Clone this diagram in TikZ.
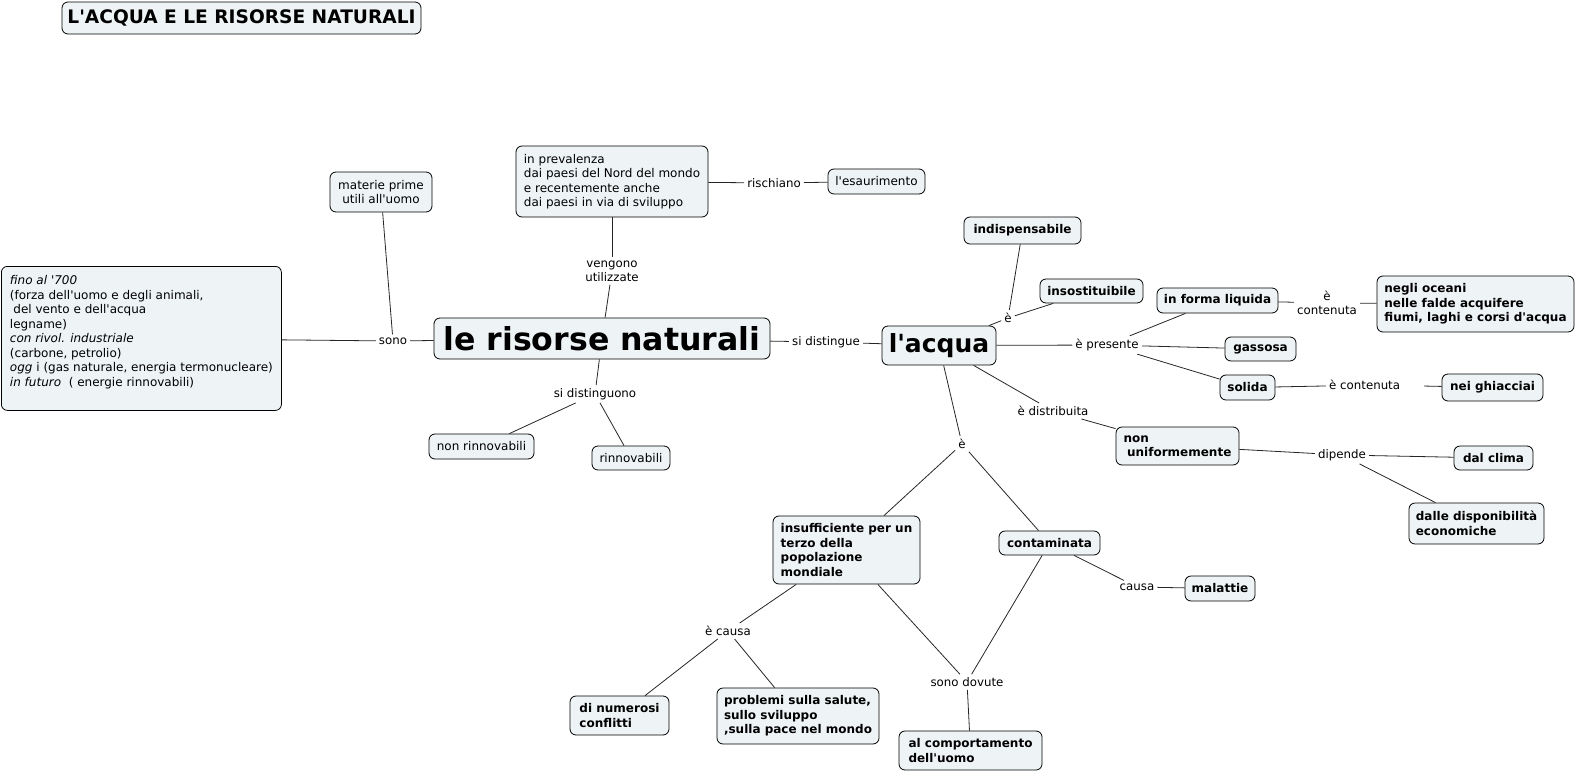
\documentclass[tikz,border=0pt]{standalone}
\usepackage{fontspec}
\setmainfont{DejaVu Sans}[Ligatures=TeXOff]
\definecolor{boxfill}{HTML}{EEF3F5}
\begin{document}
\begin{tikzpicture}[x=1pt,y=-1pt,
  box/.style={draw=black, line width=0.8pt, rounded corners=6pt, fill=boxfill, inner sep=0pt, align=left, font=\fontsize{12}{14.5}\selectfont},
  bbox/.style={box, font=\fontsize{12}{14.5}\selectfont\bfseries},
  lbl/.style={inner sep=3pt, align=center, font=\fontsize{11.8}{14}\selectfont},
  conn/.style={draw=black!85, line width=0.8pt}]
\useasboundingbox (0,0) rectangle (1577,773);

% boxes
\node[bbox, minimum width=359pt, minimum height=32pt, font=\fontsize{18.6}{20}\selectfont\bfseries] (title) at (241.5,18) {L'ACQUA E LE RISORSE NATURALI};
\node[box, minimum width=102pt, minimum height=40pt, align=center] (matprime) at (381,192) {materie prime\\utili all'uomo};
\node[box, anchor=north west, minimum width=280pt, minimum height=144pt] (storia) at (1,266) {\parbox[c][144pt][t]{266pt}{\vspace*{9pt}%
\hbox{\itshape fino al '700}%
\hbox{(forza dell'uomo e degli animali,}%
\hbox{\hspace*{3.5pt}del vento e dell'acqua}%
\hbox{legname)}%
\hbox{\itshape con rivol. industriale}%
\hbox{(carbone, petrolio)}%
\hbox{\textit{ogg} i (gas naturale, energia termonucleare)}%
\hbox{\textit{in futuro}\ \ ( energie rinnovabili)}}};
\node[bbox, minimum width=336pt, minimum height=41pt, font=\fontsize{31.6}{36}\selectfont\bfseries] (main) at (602,338.5) {le risorse naturali};
\node[box, minimum width=192pt, minimum height=71pt] (preval) at (612,181.5) {in prevalenza\\dai paesi del Nord del mondo\\e recentemente anche\\dai paesi in via di sviluppo};
\node[box, minimum width=97pt, minimum height=25pt] (esaur) at (876.5,181.5) {l'esaurimento};
\node[box, minimum width=105pt, minimum height=25pt] (nonrin) at (481.5,446.5) {non rinnovabili};
\node[box, minimum width=78pt, minimum height=24pt] (rinn) at (631,458) {rinnovabili};
\node[bbox, minimum width=114pt, minimum height=39pt, font=\fontsize{25}{30}\selectfont\bfseries] (acqua) at (939,345.5) {l'acqua};
\node[bbox, minimum width=117pt, minimum height=27pt] (indisp) at (1022.5,230.5) {indispensabile};
\node[bbox, minimum width=103pt, minimum height=24pt] (insost) at (1091.5,291) {insostituibile};
\node[bbox, minimum width=121pt, minimum height=25pt] (liquida) at (1217.5,300.5) {in forma liquida};
\node[bbox, minimum width=197pt, minimum height=56pt] (oceani) at (1475.5,304) {negli oceani\\nelle falde acquifere\\fiumi, laghi e corsi d'acqua};
\node[bbox, minimum width=71pt, minimum height=24pt] (gassosa) at (1260.5,349) {gassosa};
\node[bbox, minimum width=55pt, minimum height=25pt] (solida) at (1247.5,387.5) {solida};
\node[bbox, minimum width=101pt, minimum height=27pt] (ghiacci) at (1492.5,387.5) {nei ghiacciai};
\node[bbox, minimum width=123pt, minimum height=38pt] (nonunif) at (1177.5,446) {non\\\hspace*{3.5pt}uniformemente};
\node[bbox, minimum width=79pt, minimum height=24pt] (clima) at (1493.5,458) {dal clima};
\node[bbox, minimum width=135pt, minimum height=41pt] (disponib) at (1476.5,523.5) {dalle disponibilità\\economiche};
\node[bbox, minimum width=147pt, minimum height=68pt] (insuff) at (846.5,550) {insufficiente per un\\terzo della\\popolazione\\mondiale};
\node[bbox, minimum width=101pt, minimum height=24pt] (contam) at (1049.5,543) {contaminata};
\node[bbox, minimum width=70pt, minimum height=25pt] (malattie) at (1220,588.5) {malattie};
\node[bbox, minimum width=99pt, minimum height=39pt] (numerosi) at (619.5,715.5) {di numerosi\\conflitti};
\node[bbox, minimum width=162pt, minimum height=56pt] (problemi) at (798,716) {problemi sulla salute,\\sullo sviluppo\\,sulla pace nel mondo};
\node[bbox, minimum width=143pt, minimum height=39pt] (comport) at (970.5,750.5) {al comportamento\\dell'uomo};

% labels
\node[lbl] (sono) at (393,341) {sono};
\node[lbl] (vengono) at (612,271) {vengono\\utilizzate};
\node[lbl] (rischiano) at (774,183) {rischiano};
\node[lbl] (sidistinguono) at (595,394) {si distinguono};
\node[lbl] (sidistingue) at (826,342) {si distingue};
\node[lbl] (e1) at (1008,318) {è};
\node[lbl] (cont1) at (1327,303) {è\\contenuta};
\node[lbl] (presente) at (1107,345) {è presente};
\node[lbl, text width=92pt, align=left] (cont2) at (1375,385) {è contenuta};
\node[lbl] (distrib) at (1053,411) {è distribuita};
\node[lbl] (dipende) at (1342,455) {dipende};
\node[lbl] (e2) at (962,444) {è};
\node[lbl] (causa) at (1137,587) {causa};
\node[lbl] (ecausa) at (728,631) {è causa};
\node[lbl] (dovute) at (967,682) {sono dovute};

% connectors
\draw[conn] (storia) -- (sono);
\draw[conn] (sono) -- (main);
\draw[conn] (matprime) -- (sono);
\draw[conn] (preval) -- (vengono);
\draw[conn] (vengono) -- (main);
\draw[conn] (preval) -- (rischiano);
\draw[conn] (rischiano) -- (esaur);
\draw[conn] (main) -- (sidistinguono);
\draw[conn] (sidistinguono) -- (nonrin);
\draw[conn] (sidistinguono) -- (rinn);
\draw[conn] (main) -- (sidistingue);
\draw[conn] (sidistingue) -- (acqua);
\draw[conn] (acqua) -- (e1);
\draw[conn] (e1) -- (indisp);
\draw[conn] (e1) -- (insost);
\draw[conn] (acqua) -- (presente);
\draw[conn] (presente) -- (liquida);
\draw[conn] (presente) -- (gassosa);
\draw[conn] (presente) -- (solida);
\draw[conn] (liquida) -- (cont1);
\draw[conn] (cont1) -- (oceani);
\draw[conn] (solida) -- (cont2);
\draw[conn] (cont2) -- (ghiacci);
\draw[conn] (acqua) -- (distrib);
\draw[conn] (distrib) -- (nonunif);
\draw[conn] (nonunif) -- (dipende);
\draw[conn] (dipende) -- (clima);
\draw[conn] (dipende) -- (disponib);
\draw[conn] (acqua) -- (e2);
\draw[conn] (e2) -- (insuff);
\draw[conn] (e2) -- (contam);
\draw[conn] (contam) -- (causa);
\draw[conn] (causa) -- (malattie);
\draw[conn] (insuff) -- (ecausa);
\draw[conn] (ecausa) -- (numerosi);
\draw[conn] (ecausa) -- (problemi);
\draw[conn] (insuff) -- (dovute);
\draw[conn] (contam) -- (dovute);
\draw[conn] (dovute) -- (comport);
\end{tikzpicture}
\end{document}
